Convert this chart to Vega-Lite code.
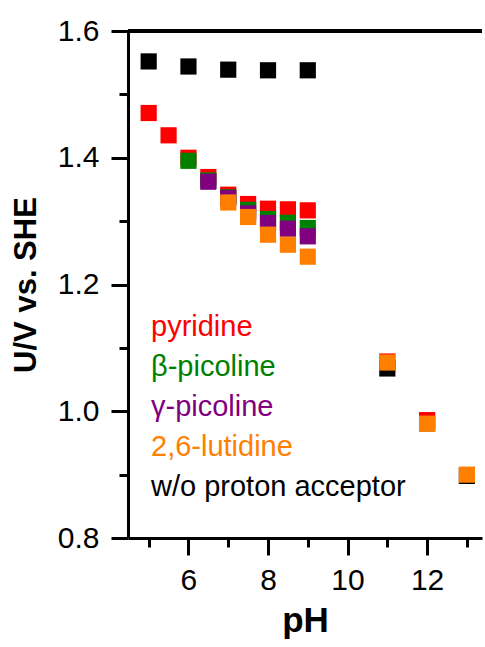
{
  "$schema": "https://vega.github.io/schema/vega-lite/v6.json",
  "width": 354,
  "height": 507,
  "autosize": {"type": "none"},
  "padding": {"left": 128, "top": 31, "right": 3, "bottom": 109},
  "background": "white",
  "config": {
    "view": {"stroke": null},
    "font": "Liberation Sans"
  },
  "data": {
    "values": [
      {"pH": 5, "U": 1.552, "series": "w/o proton acceptor"},
      {"pH": 6, "U": 1.544, "series": "w/o proton acceptor"},
      {"pH": 7, "U": 1.539, "series": "w/o proton acceptor"},
      {"pH": 8, "U": 1.538, "series": "w/o proton acceptor"},
      {"pH": 9, "U": 1.538, "series": "w/o proton acceptor"},
      {"pH": 11, "U": 1.0675, "series": "w/o proton acceptor"},
      {"pH": 12, "U": 0.981, "series": "w/o proton acceptor"},
      {"pH": 13, "U": 0.898, "series": "w/o proton acceptor"},
      {"pH": 5, "U": 1.4706, "series": "pyridine"},
      {"pH": 5.5, "U": 1.4354, "series": "pyridine"},
      {"pH": 6, "U": 1.4, "series": "pyridine"},
      {"pH": 6.5, "U": 1.3696, "series": "pyridine"},
      {"pH": 7, "U": 1.3417, "series": "pyridine"},
      {"pH": 7.5, "U": 1.327, "series": "pyridine"},
      {"pH": 8, "U": 1.3196, "series": "pyridine"},
      {"pH": 8.5, "U": 1.3186, "series": "pyridine"},
      {"pH": 9, "U": 1.317, "series": "pyridine"},
      {"pH": 11, "U": 1.0785, "series": "pyridine"},
      {"pH": 12, "U": 0.986, "series": "pyridine"},
      {"pH": 6, "U": 1.3952, "series": "β-picoline"},
      {"pH": 6.5, "U": 1.3643, "series": "β-picoline"},
      {"pH": 7, "U": 1.3376, "series": "β-picoline"},
      {"pH": 7.5, "U": 1.3178, "series": "β-picoline"},
      {"pH": 8, "U": 1.3034, "series": "β-picoline"},
      {"pH": 8.5, "U": 1.2975, "series": "β-picoline"},
      {"pH": 9, "U": 1.2892, "series": "β-picoline"},
      {"pH": 6.5, "U": 1.3622, "series": "γ-picoline"},
      {"pH": 7, "U": 1.3365, "series": "γ-picoline"},
      {"pH": 7.5, "U": 1.3123, "series": "γ-picoline"},
      {"pH": 8, "U": 1.297, "series": "γ-picoline"},
      {"pH": 8.5, "U": 1.288, "series": "γ-picoline"},
      {"pH": 9, "U": 1.276, "series": "γ-picoline"},
      {"pH": 7, "U": 1.3294, "series": "2,6-lutidine"},
      {"pH": 7.5, "U": 1.3065, "series": "2,6-lutidine"},
      {"pH": 8, "U": 1.2786, "series": "2,6-lutidine"},
      {"pH": 8.5, "U": 1.2628, "series": "2,6-lutidine"},
      {"pH": 9, "U": 1.2439, "series": "2,6-lutidine"},
      {"pH": 11, "U": 1.0769, "series": "2,6-lutidine"},
      {"pH": 12, "U": 0.9804, "series": "2,6-lutidine"},
      {"pH": 13, "U": 0.9, "series": "2,6-lutidine"}
    ]
  },
  "layer": [
    {
      "mark": {"type": "rule", "color": "black", "strokeWidth": 3},
      "encoding": {"y": {"datum": 1.6, "type": "quantitative", "scale": {"domain": [0.8, 1.6]}}}
    },
    {
      "mark": {"type": "point", "shape": "square", "filled": true, "opacity": 1, "size": 262, "strokeWidth": 0},
      "encoding": {
        "x": {
          "field": "pH", "type": "quantitative",
          "scale": {"domain": [4.48, 13.38], "nice": false, "zero": false},
          "axis": {
            "title": "pH",
            "values": [5, 6, 7, 8, 9, 10, 11, 12, 13],
            "labelExpr": "datum.value % 2 === 0 ? datum.label : ''",
            "domainColor": "black", "domainWidth": 3,
            "tickColor": "black", "tickWidth": 3,
            "tickSize": {"condition": {"test": "datum.value % 2 === 0", "value": 17}, "value": 9},
            "labelFontSize": 30, "labelColor": "black", "labelPadding": 10,
            "labelFont": "Liberation Sans",
            "grid": false,
            "titleFontSize": 35, "titleFontWeight": "bold", "titleColor": "black",
            "titleFont": "Liberation Sans", "titlePadding": 8
          }
        },
        "y": {
          "field": "U", "type": "quantitative",
          "scale": {"domain": [0.8, 1.6], "nice": false, "zero": false},
          "axis": {
            "title": "U/V vs. SHE",
            "values": [0.8, 0.9, 1.0, 1.1, 1.2, 1.3, 1.4, 1.5, 1.6],
            "format": ".1f",
            "labelExpr": "round(datum.value * 10) % 2 === 0 ? datum.label : ''",
            "domainColor": "black", "domainWidth": 3,
            "tickColor": "black", "tickWidth": 3,
            "tickSize": {"condition": {"test": "round(datum.value * 10) % 2 === 0", "value": 17}, "value": 9},
            "labelFontSize": 30, "labelColor": "black", "labelPadding": 12,
            "labelFont": "Liberation Sans",
            "grid": false,
            "titleFontSize": 31, "titleFontWeight": "bold", "titleColor": "black",
            "titleFont": "Liberation Sans", "titlePadding": 15
          }
        },
        "color": {
          "field": "series", "type": "nominal",
          "scale": {
            "domain": ["pyridine", "β-picoline", "γ-picoline", "2,6-lutidine", "w/o proton acceptor"],
            "range": ["#FF0000", "#008000", "#800080", "#FF8000", "#000000"]
          },
          "legend": {
            "orient": "none", "legendX": -6, "legendY": 281,
            "title": null, "padding": 0,
            "symbolSize": 0, "symbolOpacity": 0, "symbolStrokeWidth": 0,
            "labelOffset": 0, "labelFontSize": 29, "labelFont": "Liberation Sans",
            "labelLimit": 400, "rowPadding": 10,
            "encode": {"labels": {"update": {"fill": {"scale": "color", "field": "value"}}}}
          }
        }
      }
    }
  ]
}
